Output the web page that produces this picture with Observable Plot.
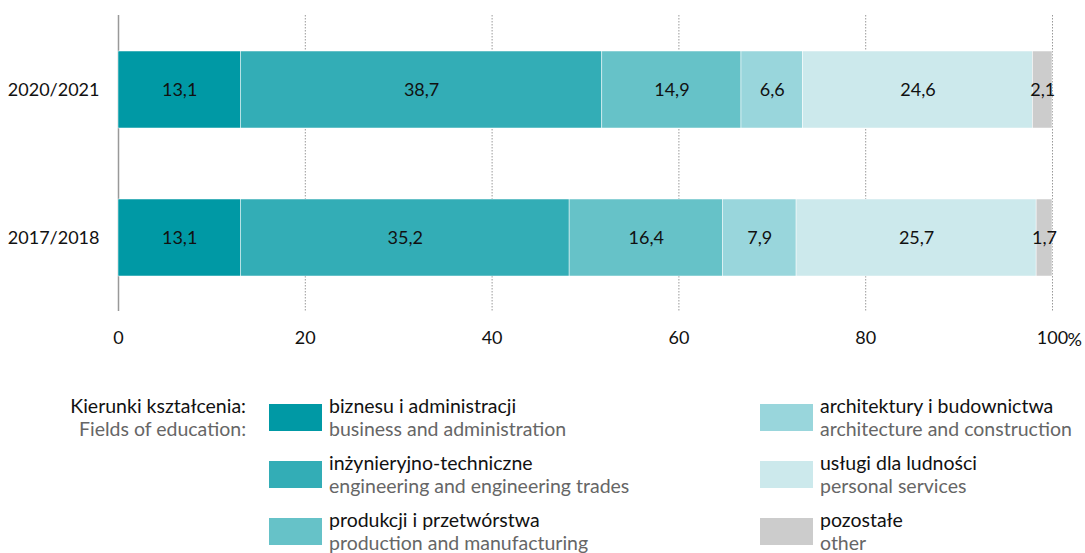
<!DOCTYPE html>
<html>
<head>
<meta charset="utf-8">
<script src="https://cdn.jsdelivr.net/npm/d3@7"></script>
<script src="https://cdn.jsdelivr.net/npm/@observablehq/plot@0.6"></script>
<style>
  html, body { margin: 0; padding: 0; background: #fff; }
  body { width: 1085px; height: 553px; position: relative; overflow: hidden; font-family: Lato, sans-serif; }
  #chart { position: absolute; left: 0; top: 0; }
  .lg { position: absolute; font-size: 19.5px; line-height: 23px; white-space: nowrap; }
  .pl { color: #111; }
  .en { color: #666; }
  .sw { position: absolute; width: 53px; height: 27px; }
  .head { position: absolute; right: calc(1085px - 246px); top: 394px; text-align: right; font-size: 19.5px; line-height: 23px; white-space: nowrap; }
</style>
</head>
<body>
<div id="chart"></div>
<div id="legend"></div>
<script>
const years = ["2020/2021", "2017/2018"];
const fieldsPl = ["biznesu i administracji", "inżynieryjno-techniczne", "produkcji i przetwórstwa", "architektury i budownictwa", "usługi dla ludności", "pozostałe"];
const fieldsEn = ["business and administration", "engineering and engineering trades", "production and manufacturing", "architecture and construction", "personal services", "other"];
const colors = ["#0099a5", "#33adb6", "#66c2c8", "#99d6dc", "#cce9ec", "#cccccc"];
const values2020 = [13.1, 38.7, 14.9, 6.6, 24.6, 2.1];
const values2017 = [13.1, 35.2, 16.4, 7.9, 25.7, 1.7];
const xTicks = [0, 20, 40, 60, 80, 100];

const data = [];
fieldsPl.forEach((f, i) => {
  data.push({year: years[0], field: f, value: values2020[i]});
  data.push({year: years[1], field: f, value: values2017[i]});
});

const fmt = v => v.toFixed(1).replace(".", ",");

const chart = Plot.plot({
  width: 1085,
  height: 365,
  marginLeft: 118,
  marginRight: 33,
  marginTop: 15,
  marginBottom: 54,
  style: {fontFamily: "Lato, sans-serif", fontSize: "18px", color: "#111", background: "#fff"},
  x: {domain: [0, 100], ticks: xTicks, tickFormat: d => String(d), label: null},
  y: {domain: years, paddingInner: 0.48, paddingOuter: 0.24, label: null},
  color: {domain: fieldsPl, range: colors},
  marks: [
    Plot.ruleX(xTicks.filter(d => d > 0), {stroke: "#999", strokeDasharray: "1.5,1.5", strokeWidth: 1}),
    Plot.ruleX([0], {stroke: "#999", strokeWidth: 1.5}),
    Plot.barX(data, Plot.stackX({x: "value", y: "year", fill: "field", order: fieldsPl, stroke: "#fff", strokeWidth: 0.5})),
    Plot.text(data, Plot.stackX({x: "value", y: "year", z: "field", order: fieldsPl, text: d => fmt(d.value), fill: "#111", fontSize: 18})),
    Plot.axisX(xTicks, {tickSize: 0, tickPadding: 20, fontSize: 18, fill: "#111", label: null}),
    Plot.text([100], {x: d => d, frameAnchor: "bottom", dy: 29, dx: 15, textAnchor: "start", lineAnchor: "middle", text: () => "%", fontSize: 18, fill: "#111"}),
    Plot.axisY({tickSize: 0, tickPadding: 19, fontSize: 18, fill: "#111", label: null})
  ]
});
document.getElementById("chart").appendChild(chart);

// legend
const legend = document.getElementById("legend");
const head = document.createElement("div");
head.className = "head";
head.innerHTML = '<div class="pl">Kierunki kształcenia:</div><div class="en">Fields of education:</div>';
legend.appendChild(head);
const colX = [269, 760];
const rowY = [404, 461, 518];
fieldsPl.forEach((f, i) => {
  const col = Math.floor(i / 3), row = i % 3;
  const sw = document.createElement("div");
  sw.className = "sw";
  sw.style.left = colX[col] + "px";
  sw.style.top = rowY[row] + "px";
  sw.style.background = colors[i];
  legend.appendChild(sw);
  const t = document.createElement("div");
  t.className = "lg";
  t.style.left = (colX[col] + 60) + "px";
  t.style.top = (rowY[row] - 10) + "px";
  t.innerHTML = '<div class="pl">' + f + '</div><div class="en">' + fieldsEn[i] + '</div>';
  legend.appendChild(t);
});
</script>
</body>
</html>
